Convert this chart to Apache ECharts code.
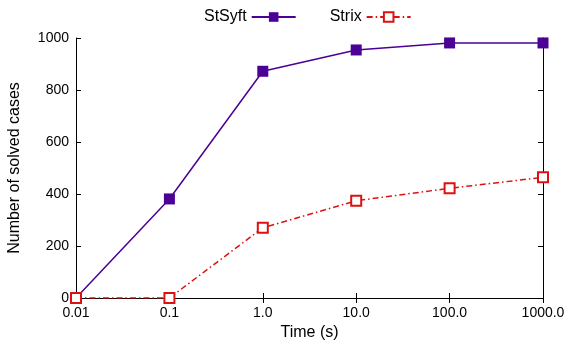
<!DOCTYPE html>
<html>
<head>
<meta charset="utf-8">
<script src="https://cdn.jsdelivr.net/npm/echarts@6/dist/echarts.min.js"></script>
<style>
  html, body { margin: 0; padding: 0; background: #fff; }
  #grafico { width: 575px; height: 345px; }
</style>
</head>
<body>
<div id="grafico"></div>
<script>
// datos
const tiempos = ['0.01', '0.1', '1.0', '10.0', '100.0', '1000.0'];
const stsyft = [0, 381, 872, 954, 981, 981];
const strix = [0, 0, 270, 374, 422, 464];

document.addEventListener('DOMContentLoaded', function () {
  const chart = echarts.init(document.getElementById('grafico'));
  const fuente = 'Liberation Sans, Arial, sans-serif';
  const ejeNegro = { lineStyle: { color: '#000', width: 1 } };

  chart.setOption({
    animation: false,
    textStyle: { fontFamily: fuente },
    legend: {
      top: 4,
      left: 199,
      align: 'right',
      itemGap: 33,
      itemWidth: 44,
      itemHeight: 12,
      textStyle: { fontSize: 16, color: '#000', fontFamily: fuente },
      data: ['StSyft', 'Strix']
    },
    grid: { left: 76, right: 32, top: 38, bottom: 47, outerBoundsMode: 'none', containLabel: false },
    xAxis: [{
      type: 'category',
      data: tiempos,
      boundaryGap: false,
      name: 'Time (s)',
      nameLocation: 'middle',
      nameGap: 26,
      nameTextStyle: { fontSize: 16, color: '#000' },
      axisLine: ejeNegro,
      axisTick: { inside: true, length: 5, lineStyle: { color: '#000' } },
      axisLabel: { fontSize: 14, color: '#000', margin: 8 },
      splitLine: { show: false }
    }, {
      type: 'category',
      data: tiempos,
      boundaryGap: false,
      position: 'top',
      axisLine: ejeNegro,
      axisTick: { inside: true, length: 5, lineStyle: { color: '#000' } },
      axisLabel: { show: false }
    }],
    yAxis: [{
      type: 'value',
      min: 0,
      max: 1000,
      interval: 200,
      name: 'Number of solved cases',
      nameLocation: 'middle',
      nameGap: 53,
      nameTextStyle: { fontSize: 16, color: '#000' },
      axisLine: { show: true, lineStyle: { color: '#000', width: 1 } },
      axisTick: { show: true, inside: true, length: 5, lineStyle: { color: '#000' } },
      axisLabel: { fontSize: 14, color: '#000', margin: 7, formatter: v => String(v) },
      splitLine: { show: false }
    }, {
      type: 'value',
      min: 0,
      max: 1000,
      interval: 200,
      position: 'right',
      axisLine: { show: true, lineStyle: { color: '#000', width: 1 } },
      axisTick: { show: true, inside: true, length: 5, lineStyle: { color: '#000' } },
      axisLabel: { show: false },
      splitLine: { show: false }
    }],
    series: [{
      name: 'StSyft',
      type: 'line',
      data: stsyft,
      symbol: 'rect',
      symbolSize: 11,
      itemStyle: { color: '#4b0096' },
      lineStyle: { color: '#4b0096', width: 1.5 }
    }, {
      name: 'Strix',
      type: 'line',
      data: strix,
      symbol: 'emptyRect',
      symbolSize: 10,
      itemStyle: { color: '#dd1111', borderWidth: 1.5 },
      lineStyle: { color: '#dd1111', width: 1.5, type: [6, 3, 1.5, 3] }
    }]
  });
});
</script>
</body>
</html>
